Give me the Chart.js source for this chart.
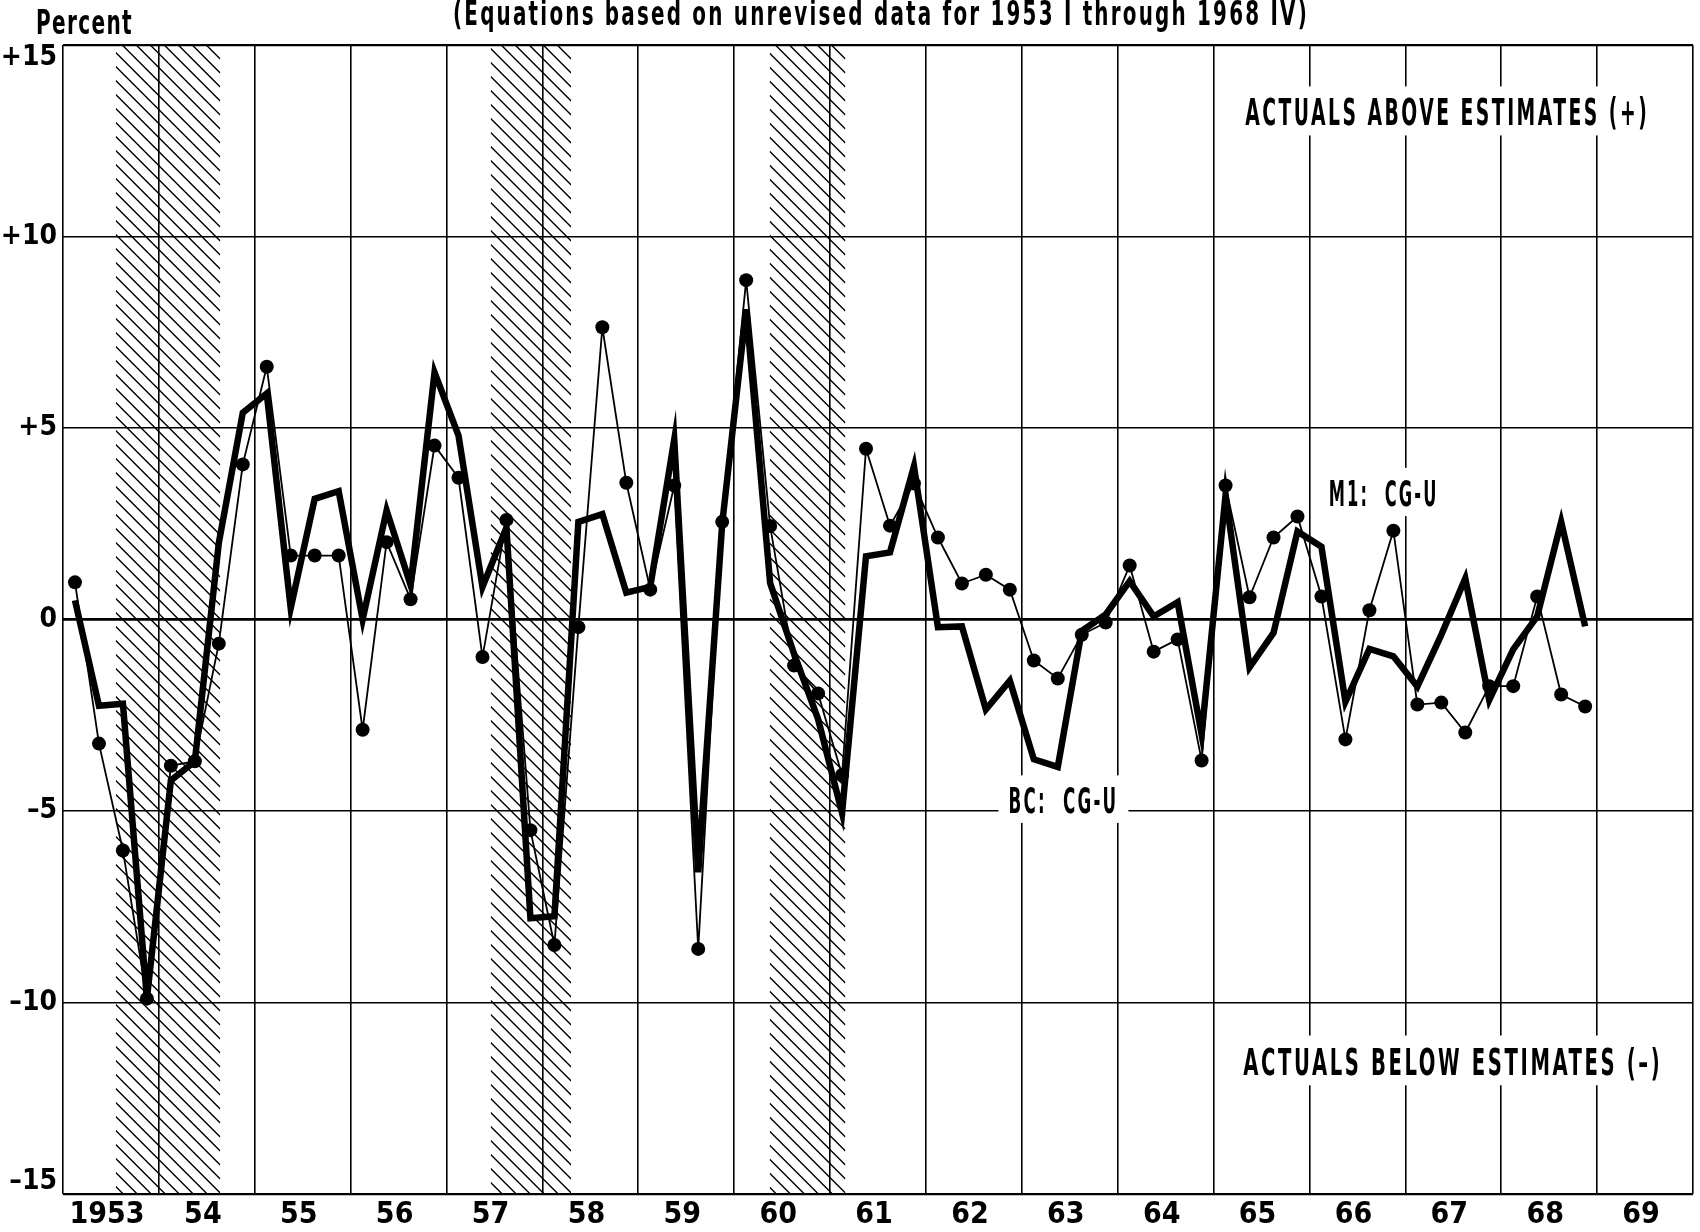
<!DOCTYPE html>
<html lang="en">
<head>
    <meta charset="UTF-8">
    <title>Residuals, BC and M1 equations</title>
    <script src="https://cdn.jsdelivr.net/npm/chart.js@4.4.0/dist/chart.umd.min.js"></script>
    <style>
        html, body { margin: 0; padding: 0; background: #fff; }
        canvas { display: block; }
    </style>
</head>
<body>
    <canvas id="myChart" width="1700" height="1232"></canvas>
<script>
// quarterly residuals in percent, 1953 I through 1968 IV
var firstYear = 1953;
var yearLabels = ['1953', '54', '55', '56', '57', '58', '59', '60', '61', '62', '63', '64', '65', '66', '67', '68', '69'];
var yTicks = [-15, -10, -5, 0, 5, 10, 15];
var yTickLabels = ['\u201315', '\u201310', '\u20135', '0', '+5', '+10', '+15'];

// BC: CG-U (heavy line)
var bcValues = [
    0.5, -2.25, -2.2, -9.9,
    -4.2, -3.7, 2.0, 5.4,
    5.9, 0.3, 3.15, 3.35,
    0.0, 2.85, 0.9, 6.45,
    4.8, 0.85, 2.4, -7.8,
    -7.75, 2.55, 2.75, 0.7,
    0.85, 4.7, -6.6, 2.5,
    8.1, 0.95, -0.9, -2.6,
    -5.05, 1.65, 1.75, 4.0,
    -0.2, -0.18, -2.35, -1.6,
    -3.65, -3.85, -0.3, 0.13,
    1.0, 0.08, 0.45, -3.0,
    3.25, -1.25, -0.35, 2.3,
    1.9, -2.15, -0.77, -0.96,
    -1.75, -0.4, 1.07, -2.1,
    -0.78, 0.08, 2.55, -0.18
];

// M1: CG-U (light line with dots)
var m1Values = [
    0.97, -3.24, -6.03, -9.9,
    -3.82, -3.7, -0.63, 4.05,
    6.6, 1.67, 1.67, 1.67,
    -2.88, 2.02, 0.53, 4.54,
    3.7, -0.98, 2.6, -5.5,
    -8.5, -0.2, 7.63, 3.57,
    0.78, 3.5, -8.6, 2.55,
    8.86, 2.44, -1.2, -1.93,
    -4.06, 4.46, 2.45, 3.55,
    2.14, 0.94, 1.17, 0.78,
    -1.07, -1.54, -0.4, -0.08,
    1.41, -0.84, -0.52, -3.68,
    3.5, 0.58, 2.14, 2.69,
    0.6, -3.13, 0.24, 2.32,
    -2.22, -2.17, -2.95, -1.74,
    -1.74, 0.6, -1.96, -2.27
];

// shaded recession periods (in years)
var recessionStarts = [1953.55, 1957.46, 1960.37];
var recessionEnds = [1954.64, 1958.30, 1961.16];

var FONT = "'Liberation Sans Narrow', 'DejaVu Sans Condensed', 'Liberation Sans', Arial, sans-serif";

function quarterX(i) {
    return firstYear + (i + 0.5) / 4;
}

function toPoints(values) {
    return values.map(function (v, i) { return { x: quarterX(i), y: v }; });
}

// squeeze text horizontally to a given width (condensed gothic look)
function fitText(c, text, x, y, width, size, spacing) {
    c.save();
    c.font = 'bold ' + size + 'px ' + FONT;
    c.letterSpacing = spacing || '0px';
    c.textBaseline = 'alphabetic';
    c.textAlign = 'left';
    var w = c.measureText(text).width;
    c.translate(x, y);
    c.scale(width / w, 1);
    c.fillStyle = '#000';
    c.fillText(text, 0, 0);
    c.restore();
}

// notes placed in data coordinates: left edge year, baseline value
var notes = [
    { text: 'ACTUALS ABOVE ESTIMATES (+)', year: 1965.33, value: 12.9, width: 404, size: 37 },
    { text: 'ACTUALS BELOW ESTIMATES (\u2013)', year: 1965.31, value: -11.9, width: 419, size: 38 },
    { text: 'M1:  CG-U', year: 1966.2, value: 2.96, width: 110, size: 36 },
    { text: 'BC:  CG-U', year: 1962.86, value: -5.05, width: 110, size: 35 }
];

var whiteBg = {
    id: 'whiteBg',
    beforeDraw: function (chart) {
        var c = chart.ctx;
        c.save();
        c.fillStyle = '#fff';
        c.fillRect(0, 0, chart.width, chart.height);
        c.restore();
    }
};

var hatchPlugin = {
    id: 'hatch',
    beforeDatasetsDraw: function (chart) {
        var c = chart.ctx, area = chart.chartArea, xs = chart.scales.x;
        c.save();
        c.strokeStyle = '#000';
        c.lineWidth = 1.4;
        recessionStarts.forEach(function (start, k) {
            var x0 = xs.getPixelForValue(start);
            var x1 = xs.getPixelForValue(recessionEnds[k]);
            var w = x1 - x0, slope = 1.0, gap = 14;
            c.save();
            c.beginPath();
            c.rect(x0, area.top, w, area.bottom - area.top);
            c.clip();
            c.beginPath();
            for (var y = area.top - w * slope; y < area.bottom; y += gap) {
                c.moveTo(x0, y);
                c.lineTo(x1, y + w * slope);
            }
            c.stroke();
            c.restore();
        });
        c.restore();

        // labels inside the plot, gridlines broken around them
        var ys = chart.scales.y;
        notes.forEach(function (n) {
            var x = xs.getPixelForValue(n.year), y = ys.getPixelForValue(n.value);
            var cap = n.size * 0.73;
            c.save();
            c.fillStyle = '#fff';
            c.fillRect(x - 10, y - cap - 12, n.width + 20, cap + 22);
            c.restore();
            fitText(c, n.text, x, y, n.width, n.size, '0.12em');
        });
    }
};

var headerPlugin = {
    id: 'header',
    afterDraw: function (chart) {
        var c = chart.ctx;
        fitText(c, 'Percent', 36, 34, 97, 34, '0.06em');
        fitText(c, '(Equations based on unrevised data for 1953 I through 1968 IV)', 453, 25, 856, 33, '0.1em');
    }
};

var ctx = document.getElementById('myChart').getContext('2d');
var chart = new Chart(ctx, {
    type: 'line',
    data: {
        datasets: [{
            label: 'BC: CG-U',
            data: toPoints(bcValues),
            borderColor: '#000',
            borderWidth: 6.5,
            borderJoinStyle: 'miter',
            pointRadius: 0,
            tension: 0
        }, {
            label: 'M1: CG-U',
            data: toPoints(m1Values),
            borderColor: '#000',
            borderWidth: 1.8,
            pointRadius: 7,
            pointBorderWidth: 0,
            pointBackgroundColor: '#000',
            tension: 0
        }]
    },
    options: {
        responsive: false,
        animation: false,
        devicePixelRatio: 1,
        layout: { padding: { top: 45, right: 2, left: 0, bottom: 0 } },
        plugins: {
            legend: { display: false },
            tooltip: { enabled: false }
        },
        scales: {
            x: {
                type: 'linear',
                min: firstYear,
                max: firstYear + yearLabels.length,
                afterBuildTicks: function (s) {
                    var t = [];
                    for (var k = 0; k <= yearLabels.length; k++) t.push({ value: firstYear + k });
                    s.ticks = t;
                },
                afterFit: function (s) { s.height = 38; },
                grid: { color: '#000', lineWidth: 1.6, drawTicks: false },
                border: { display: false },
                ticks: {
                    autoSkip: false,
                    maxRotation: 0,
                    labelOffset: 44,
                    padding: 3,
                    color: '#000',
                    font: { family: FONT, size: 30, weight: 'bold' },
                    callback: function (v, i) { return yearLabels[i] || ''; }
                }
            },
            y: {
                min: -15,
                max: 15,
                afterBuildTicks: function (s) {
                    s.ticks = yTicks.map(function (v) { return { value: v }; });
                },
                afterFit: function (s) { s.width = 63; },
                grid: {
                    color: '#000',
                    drawTicks: false,
                    lineWidth: function (c) {
                        if (!c.tick) return 1.6;
                        if (c.tick.value === 0) return 2.8;
                        if (Math.abs(c.tick.value) === 15) return 2.2;
                        return 1.6;
                    }
                },
                border: { display: false },
                ticks: {
                    padding: 6,
                    color: '#000',
                    font: { family: FONT, size: 28, weight: 'bold', lineHeight: 0.9 },
                    // end labels sit inside the frame, as in the original
                    callback: function (v, i) {
                        var label = yTickLabels[i];
                        if (i === yTicks.length - 1) return ['', label];
                        if (i === 0) return [label, ''];
                        return label;
                    }
                }
            }
        }
    },
    plugins: [whiteBg, hatchPlugin, headerPlugin]
});
</script>
</body>
</html>
